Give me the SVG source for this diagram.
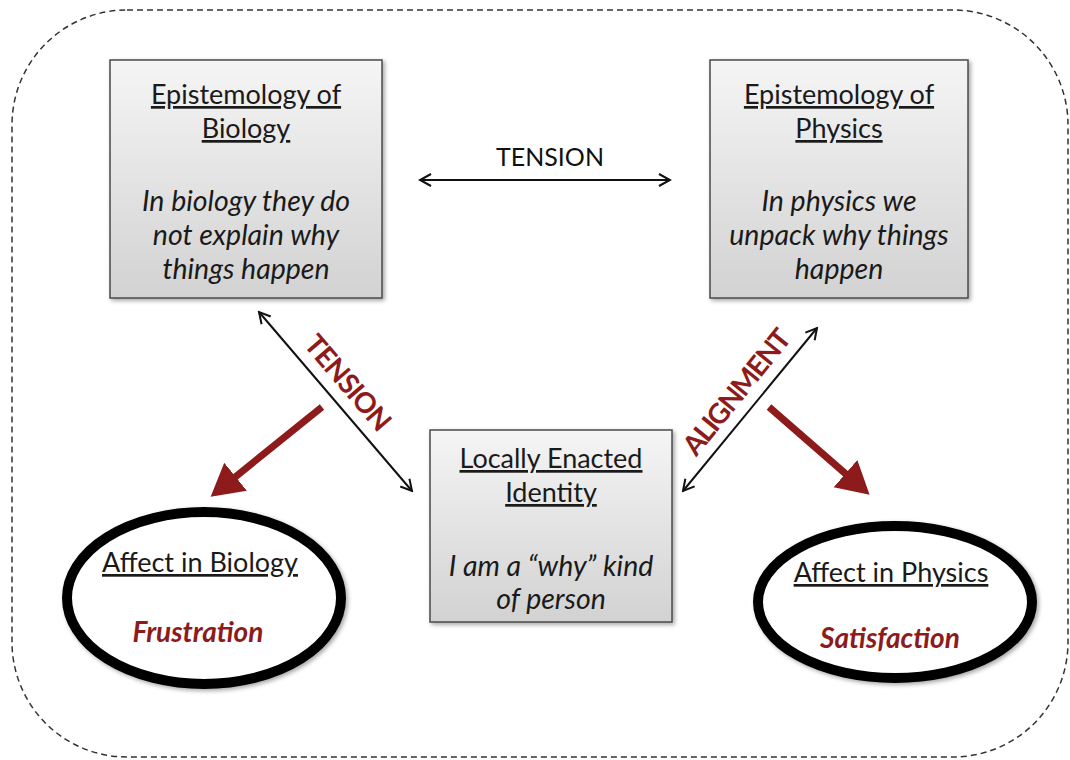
<svg xmlns="http://www.w3.org/2000/svg" width="1070" height="760" viewBox="0 0 1070 760">
  <defs>
    <linearGradient id="boxGrad" x1="0" y1="0" x2="0" y2="1">
      <stop offset="0" stop-color="#f5f5f5"/>
      <stop offset="1" stop-color="#d2d2d2"/>
    </linearGradient>
    <filter id="shadow" x="-10%" y="-10%" width="125%" height="125%">
      <feDropShadow dx="2" dy="2" stdDeviation="2" flood-color="#000" flood-opacity="0.35"/>
    </filter>
    <marker id="openHead" viewBox="0 0 14 14" refX="12" refY="7" markerWidth="14" markerHeight="14" markerUnits="userSpaceOnUse" orient="auto-start-reverse">
      <path d="M1,1 L12,7 L1,13" fill="none" stroke="#111" stroke-width="2"/>
    </marker>
    <marker id="redHead" viewBox="0 0 34 38" refX="2" refY="19" markerWidth="34" markerHeight="38" markerUnits="userSpaceOnUse" orient="auto">
      <path d="M0,1 L32,19 L0,37 z" fill="#8e1b1b"/>
    </marker>
  </defs>
  <style>
    .box { fill: url(#boxGrad); stroke: #4a4a4a; stroke-width: 1.5; filter: url(#shadow); }
    .ell { fill: #fff; stroke: #000; stroke-width: 10; filter: url(#shadow); }
    .t { font-family: Lato, "Open Sans", "Liberation Sans", sans-serif; font-size: 27px; fill: #1a1a1a; text-anchor: middle; }
    .u { text-decoration: underline; }
    .i { font-style: italic; font-size: 28.5px; }
    .red { fill: #8e1b1b; font-weight: bold; font-size: 28px; }
    .lbl { font-family: Lato, "Open Sans", "Liberation Sans", sans-serif; text-anchor: middle; }
    .diag { font-size: 28px; font-weight: bold; fill: #8e1b1b; }
    .blk { stroke: #111; stroke-width: 2; fill: none; marker-start: url(#openHead); marker-end: url(#openHead); }
    .redline { stroke: #8e1b1b; stroke-width: 7; fill: none; marker-end: url(#redHead); }
  </style>

  <rect x="12" y="10" width="1056" height="747" rx="115" ry="115" fill="none" stroke="#333" stroke-width="1.5" stroke-dasharray="6,4"/>

  <g id="connectors">
    <line class="blk" x1="420" y1="180" x2="670" y2="180"/>
    <line class="blk" x1="259" y1="312" x2="412" y2="491"/>
    <line class="blk" x1="817" y1="328" x2="683" y2="491"/>
    <line class="redline" x1="322" y1="407" x2="234" y2="478"/>
    <line class="redline" x1="769" y1="407" x2="847" y2="475"/>
    <text class="lbl" x="550" y="166" font-size="25" fill="#111">TENSION</text>
    <text class="lbl diag" letter-spacing="-1" transform="translate(347,383) rotate(49.5)" y="9">TENSION</text>
    <text class="lbl diag" letter-spacing="-1.5" transform="translate(737,393) rotate(-51)" y="9">ALIGNMENT</text>
  </g>

  <g id="node-biology">
    <rect class="box" x="110" y="60" width="272" height="238"/>
    <text class="t u" x="246" y="104">Epistemology of</text>
    <text class="t u" x="246" y="138">Biology</text>
    <text class="t i" x="246" y="211">In biology they do</text>
    <text class="t i" x="246" y="245">not explain why</text>
    <text class="t i" x="246" y="279">things happen</text>
  </g>

  <g id="node-physics">
    <rect class="box" x="710" y="60" width="258" height="238"/>
    <text class="t u" x="839" y="104">Epistemology of</text>
    <text class="t u" x="839" y="138">Physics</text>
    <text class="t i" x="839" y="211">In physics we</text>
    <text class="t i" x="839" y="245">unpack why things</text>
    <text class="t i" x="839" y="279">happen</text>
  </g>

  <g id="node-identity">
    <rect class="box" x="430" y="430" width="242" height="192"/>
    <text class="t u" x="551" y="468">Locally Enacted</text>
    <text class="t u" x="551" y="502">Identity</text>
    <text class="t i" x="551" y="576">I am a “why” kind</text>
    <text class="t i" x="551" y="609">of person</text>
  </g>

  <g id="node-affect-biology">
    <ellipse class="ell" cx="204" cy="598" rx="137" ry="86"/>
    <text class="t u" x="200" y="572">Affect in Biology</text>
    <text class="t i red" x="198" y="642">Frustration</text>
  </g>

  <g id="node-affect-physics">
    <ellipse class="ell" cx="895" cy="602" rx="137" ry="76"/>
    <text class="t u" x="891" y="582">Affect in Physics</text>
    <text class="t i red" x="890" y="648">Satisfaction</text>
  </g>
</svg>
